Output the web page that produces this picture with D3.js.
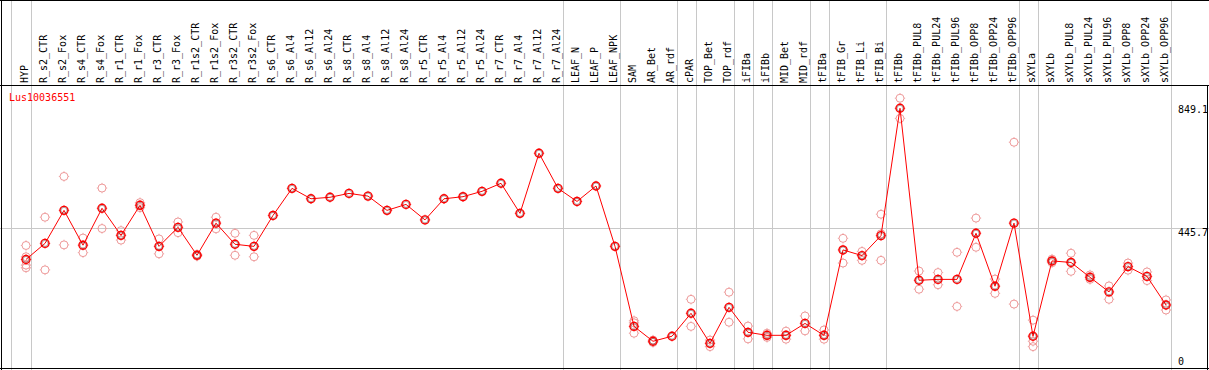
<!DOCTYPE html>
<html lang="en">
<head>
<meta charset="UTF-8">
<title>Lus10036551</title>
<script src="https://cdn.jsdelivr.net/npm/d3@7/dist/d3.min.js"></script>
<style>
	body { margin: 0; background: #fff; }
	svg { display: block; }
	text { font-family: "DejaVu Sans Mono", monospace; font-size: 10px; }
	.grid { stroke: #c8c8c8; stroke-width: 1; shape-rendering: crispEdges; }
	.frame { stroke: #000; stroke-width: 1; shape-rendering: crispEdges; }
</style>
</head>
<body>
<script>
	// sample names along the top
	var samples = ['HYP', 'R_s2_CTR', 'R_s2_Fox', 'R_s4_CTR', 'R_s4_Fox', 'R_r1_CTR', 'R_r1_Fox',
		'R_r3_CTR', 'R_r3_Fox', 'R_r1s2_CTR', 'R_r1s2_Fox', 'R_r3s2_CTR', 'R_r3s2_Fox',
		'R_s6_CTR', 'R_s6_Al4', 'R_s6_Al12', 'R_s6_Al24', 'R_s8_CTR', 'R_s8_Al4', 'R_s8_Al12', 'R_s8_Al24',
		'R_r5_CTR', 'R_r5_Al4', 'R_r5_Al12', 'R_r5_Al24', 'R_r7_CTR', 'R_r7_Al4', 'R_r7_Al12', 'R_r7_Al24',
		'LEAF_N', 'LEAF_P', 'LEAF_NPK', 'SAM', 'AR_Bet', 'AR_rdf', 'cPAR', 'TOP_Bet', 'TOP_rdf',
		'iFIBa', 'iFIBb', 'MID_Bet', 'MID_rdf', 'tFIBa', 'tFIB_Gr', 'tFIB_Li', 'tFIB_Bi',
		'tFIBb', 'tFIBb_PUL8', 'tFIBb_PUL24', 'tFIBb_PUL96', 'tFIBb_OPP8', 'tFIBb_OPP24', 'tFIBb_OPP96',
		'sXYLa', 'sXYLb', 'sXYLb_PUL8', 'sXYLb_PUL24', 'sXYLb_PUL96', 'sXYLb_OPP8', 'sXYLb_OPP24', 'sXYLb_OPP96'];

	// mean expression per sample
	var means = [341, 395, 506, 389, 513, 422, 523, 385, 449, 355, 463, 392, 385,
		489, 580, 545, 550, 563, 554, 506, 526,
		474, 545, 552, 570, 597, 496, 698, 580,
		536, 588, 385, 116, 66, 83, 160, 59, 180,
		96, 86, 86, 126, 86, 373, 354, 421,
		849.1, 271, 274, 274, 429, 251, 463,
		83, 336, 331, 281, 232, 317, 284, 188];

	// individual replicates (empty = only one value)
	var replicates = [[388, 322, 313, 350], [483, 306], [620, 390], [413, 364], [581, 445], [438, 406], [532, 515],
		[410, 360], [467, 431], [358, 352], [483, 444], [429, 355], [422, 350],
		[], [], [], [], [], [], [], [],
		[], [], [], [], [], [], [], [],
		[], [], [], [135, 128, 93], [70, 62], [], [207, 116], [70, 48], [231, 130],
		[117, 74], [93, 79], [100, 73], [151, 101], [104, 73], [412, 329], [368, 338], [493, 427, 338],
		[883, 815], [302, 241], [297, 256], [365, 183], [480, 382], [275, 227], [735, 191],
		[137, 66, 48], [342, 330], [362, 301], [289, 274], [252, 207], [329, 305], [299, 270], [205, 171]];

	// last sample of each group (a grey separator follows it)
	var groupEnds = ['HYP', 'R_r7_Al24', 'LEAF_NPK', 'AR_rdf', 'cPAR', 'TOP_rdf', 'iFIBa', 'iFIBb',
		'MID_rdf', 'tFIBa', 'tFIB_Bi', 'tFIBb_OPP96', 'sXYLa', 'sXYLb_OPP96'];

	var yTicks = [0, 445.7, 849.1];
	var gridValues = [445.7];
	var title = 'Lus10036551';

	var width = 1209, height = 370;
	var headerBottom = 85;

	var svg = d3.select('body').append('svg')
		.attr('width', width)
		.attr('height', height);

	var x = d3.scalePoint()
		.domain(samples)
		.range([26, 1166]);

	var y = d3.scaleLinear()
		.domain([0, 849.1])
		.range([360.9, 108.3]);

	// vertical separators
	var seps = [x(samples[0]) - 15.5].concat(groupEnds.map(function (s) { return x(s) + 4.5; }));
	svg.selectAll('.vsep')
		.data(seps)
		.enter().append('line')
		.attr('class', 'grid')
		.attr('x1', function (d) { return Math.round(d) + 0.5; })
		.attr('x2', function (d) { return Math.round(d) + 0.5; })
		.attr('y1', 0)
		.attr('y2', height);

	// horizontal gridline
	svg.selectAll('.hgrid')
		.data(gridValues)
		.enter().append('line')
		.attr('class', 'grid')
		.attr('x1', 0)
		.attr('x2', width)
		.attr('y1', function (d) { return Math.round(y(d)) + 0.5; })
		.attr('y2', function (d) { return Math.round(y(d)) + 0.5; });

	// frame
	svg.append('line').attr('class', 'frame').attr('x1', 0).attr('x2', width).attr('y1', 0.5).attr('y2', 0.5);
	svg.append('line').attr('class', 'frame').attr('x1', 0).attr('x2', width).attr('y1', headerBottom + 0.5).attr('y2', headerBottom + 0.5);
	svg.append('line').attr('class', 'frame').attr('x1', 0).attr('x2', width).attr('y1', height - 1.5).attr('y2', height - 1.5);
	svg.append('line').attr('class', 'frame').attr('x1', 1.5).attr('x2', 1.5).attr('y1', 0).attr('y2', height);
	svg.append('line').attr('class', 'frame').attr('x1', width - 1.5).attr('x2', width - 1.5).attr('y1', headerBottom).attr('y2', height);

	// sample labels
	svg.selectAll('.samp')
		.data(samples)
		.enter().append('text')
		.attr('class', 'samp')
		.attr('transform', function (d) { return 'translate(' + (x(d) + 2) + ',' + (headerBottom - 2) + ') rotate(-90)'; })
		.attr('fill', '#000')
		.text(function (d) { return d; });

	// y labels
	svg.selectAll('.ylab')
		.data(yTicks)
		.enter().append('text')
		.attr('class', 'ylab')
		.attr('x', 1178)
		.attr('y', function (d) { return y(d) + (gridValues.indexOf(d) >= 0 ? 4 : 1); })
		.attr('dy', '0.35em')
		.attr('fill', '#000')
		.text(function (d) { return d; });

	svg.append('text')
		.attr('x', 9)
		.attr('y', 101)
		.attr('fill', '#f00')
		.text(title);

	function marker(g, color, sw) {
		g.append('circle').attr('r', 4).attr('fill', 'none').attr('stroke', color).attr('stroke-width', sw);
		[[0, -1], [0, 1], [-1, 0], [1, 0]].forEach(function (v) {
			g.append('line')
				.attr('x1', v[0] * 4).attr('y1', v[1] * 4)
				.attr('x2', v[0] * 5.2).attr('y2', v[1] * 5.2)
				.attr('stroke', color).attr('stroke-width', 0.8);
		});
	}

	// replicates
	var reps = [];
	samples.forEach(function (s, i) {
		replicates[i].forEach(function (v) { reps.push({ s: s, v: v }); });
	});
	svg.selectAll('.rep')
		.data(reps)
		.enter().append('g')
		.attr('class', 'rep')
		.attr('transform', function (d) { return 'translate(' + x(d.s) + ',' + y(d.v) + ')'; })
		.each(function () { marker(d3.select(this), '#ee9a9a', 1); });

	// mean line
	var line = d3.line()
		.x(function (d, i) { return x(samples[i]); })
		.y(function (d) { return y(d); });

	svg.append('path')
		.datum(means)
		.attr('d', line)
		.attr('fill', 'none')
		.attr('stroke', '#f00')
		.attr('stroke-width', 1);

	svg.selectAll('.mean')
		.data(means)
		.enter().append('g')
		.attr('class', 'mean')
		.attr('transform', function (d, i) { return 'translate(' + x(samples[i]) + ',' + y(d) + ')'; })
		.each(function () {
			var g = d3.select(this);
			marker(g, '#f00', 1.4);
			g.append('circle').attr('r', 3).attr('fill', 'none').attr('stroke', '#300').attr('stroke-width', 0.6).attr('stroke-opacity', 0.6);
		});
</script>
</body>
</html>
